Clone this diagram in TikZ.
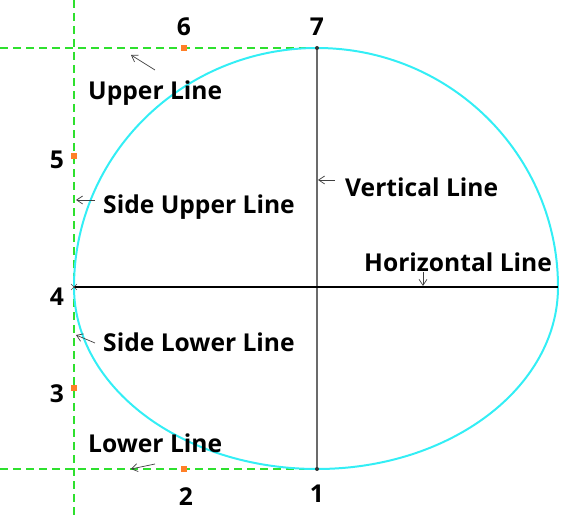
\documentclass[tikz,border=0pt]{standalone}
\usepackage{fontspec}
\setmainfont{Open Sans}
\usepackage{tikz}
\usetikzlibrary{arrows.meta,positioning}
\definecolor{guide}{HTML}{2EE02E}
\definecolor{outline}{HTML}{33EEF5}
\definecolor{marker}{HTML}{FF7F27}
\definecolor{axisgrey}{HTML}{6B6B6B}
\tikzset{
  guideline/.style={draw=guide,line width=1.6pt,dash pattern=on 0.24cm off 0.15cm},
  shapeline/.style={draw=outline,line width=1.7pt},
  ptmark/.style={rectangle,fill=marker,inner sep=0pt,minimum size=0.2cm},
  numlabel/.style={font=\fontsize{21}{24}\selectfont\bfseries},
  namelabel/.style={font=\fontsize{21}{24}\selectfont\bfseries,anchor=west,inner sep=0pt},
  pointer/.style={-{Straight Barb[length=1.8mm,width=2.4mm]},draw=black!75,line width=0.6pt}
}
\begin{document}
\begin{tikzpicture}[x=0.03cm,y=-0.03cm]
  \useasboundingbox (0,0) rectangle (574,515);

  % key points
  \coordinate (p7) at (317,48);
  \coordinate (p1) at (317,469);
  \coordinate (p4) at (74,287);
  \coordinate (right) at (558,287);
  \coordinate (centre) at (317,287);

  % guide lines
  \draw[guideline] (74,0) -- (74,515);
  \draw[guideline] (0,48) -- (p7);
  \draw[guideline] (0,469) -- (p1);

  % outline
  \draw[shapeline] (p7) arc[start angle=90,end angle=0,x radius=241,y radius=-239]
    arc[start angle=0,end angle=-90,x radius=241,y radius=-182]
    arc[start angle=-90,end angle=-180,x radius=243,y radius=-182]
    arc[start angle=180,end angle=90,x radius=243,y radius=-239];

  % axes
  \draw[draw=axisgrey,line width=1.5pt] (p7) -- (p1);
  \draw[black,line width=1pt] (p4) -- (right);
  \fill[black!80] (p7) circle (2);
  \fill[black!80] (p1) circle (2);
  \draw[black!70,thin] (71,284) -- (77,290) (71,290) -- (77,284);

  % marked points
  \node[ptmark] (m6) at (184,48) {};
  \node[ptmark] (m5) at (74,156) {};
  \node[ptmark] (m3) at (74,388) {};
  \node[ptmark] (m2) at (184,469) {};

  \node[numlabel] (n7) at (317,27) {7};
  \node[numlabel] (n6) at (184,27) {6};
  \node[numlabel] (n5) at (57,160) {5};
  \node[numlabel] (n4) at (57,297) {4};
  \node[numlabel] (n3) at (57,394) {3};
  \node[numlabel] (n2) at (186,497) {2};
  \node[numlabel] (n1) at (317,494) {1};

  % line names
  \node[namelabel] (upper) at (88,93) {Upper Line};
  \node[namelabel] (sideup) at (103,207) {Side Upper Line};
  \node[namelabel] (sidelow) at (103,342) {Side Lower Line};
  \node[namelabel] (lower) at (88,443) {Lower Line};
  \node[namelabel] (vert) at (345,187) {Vertical Line};
  \node[namelabel] (horiz) at (364,262) {Horizontal Line};

  \coordinate (a1) at (155,70);  \coordinate (b1) at (131,55);
  \coordinate (a2) at (95,200);  \coordinate (b2) at (76,200);
  \coordinate (a3) at (95,343);  \coordinate (b3) at (76,335);
  \coordinate (a4) at (155,464); \coordinate (b4) at (131,469);
  \coordinate (a5) at (335,180); \coordinate (b5) at (318,180);
  \coordinate (a6) at (423,272); \coordinate (b6) at (423,286);
  \draw[pointer] (a1) -- (b1);
  \draw[pointer] (a2) -- (b2);
  \draw[pointer] (a3) -- (b3);
  \draw[pointer] (a4) -- (b4);
  \draw[pointer] (a5) -- (b5);
  \draw[pointer] (a6) -- (b6);
\end{tikzpicture}
\end{document}
